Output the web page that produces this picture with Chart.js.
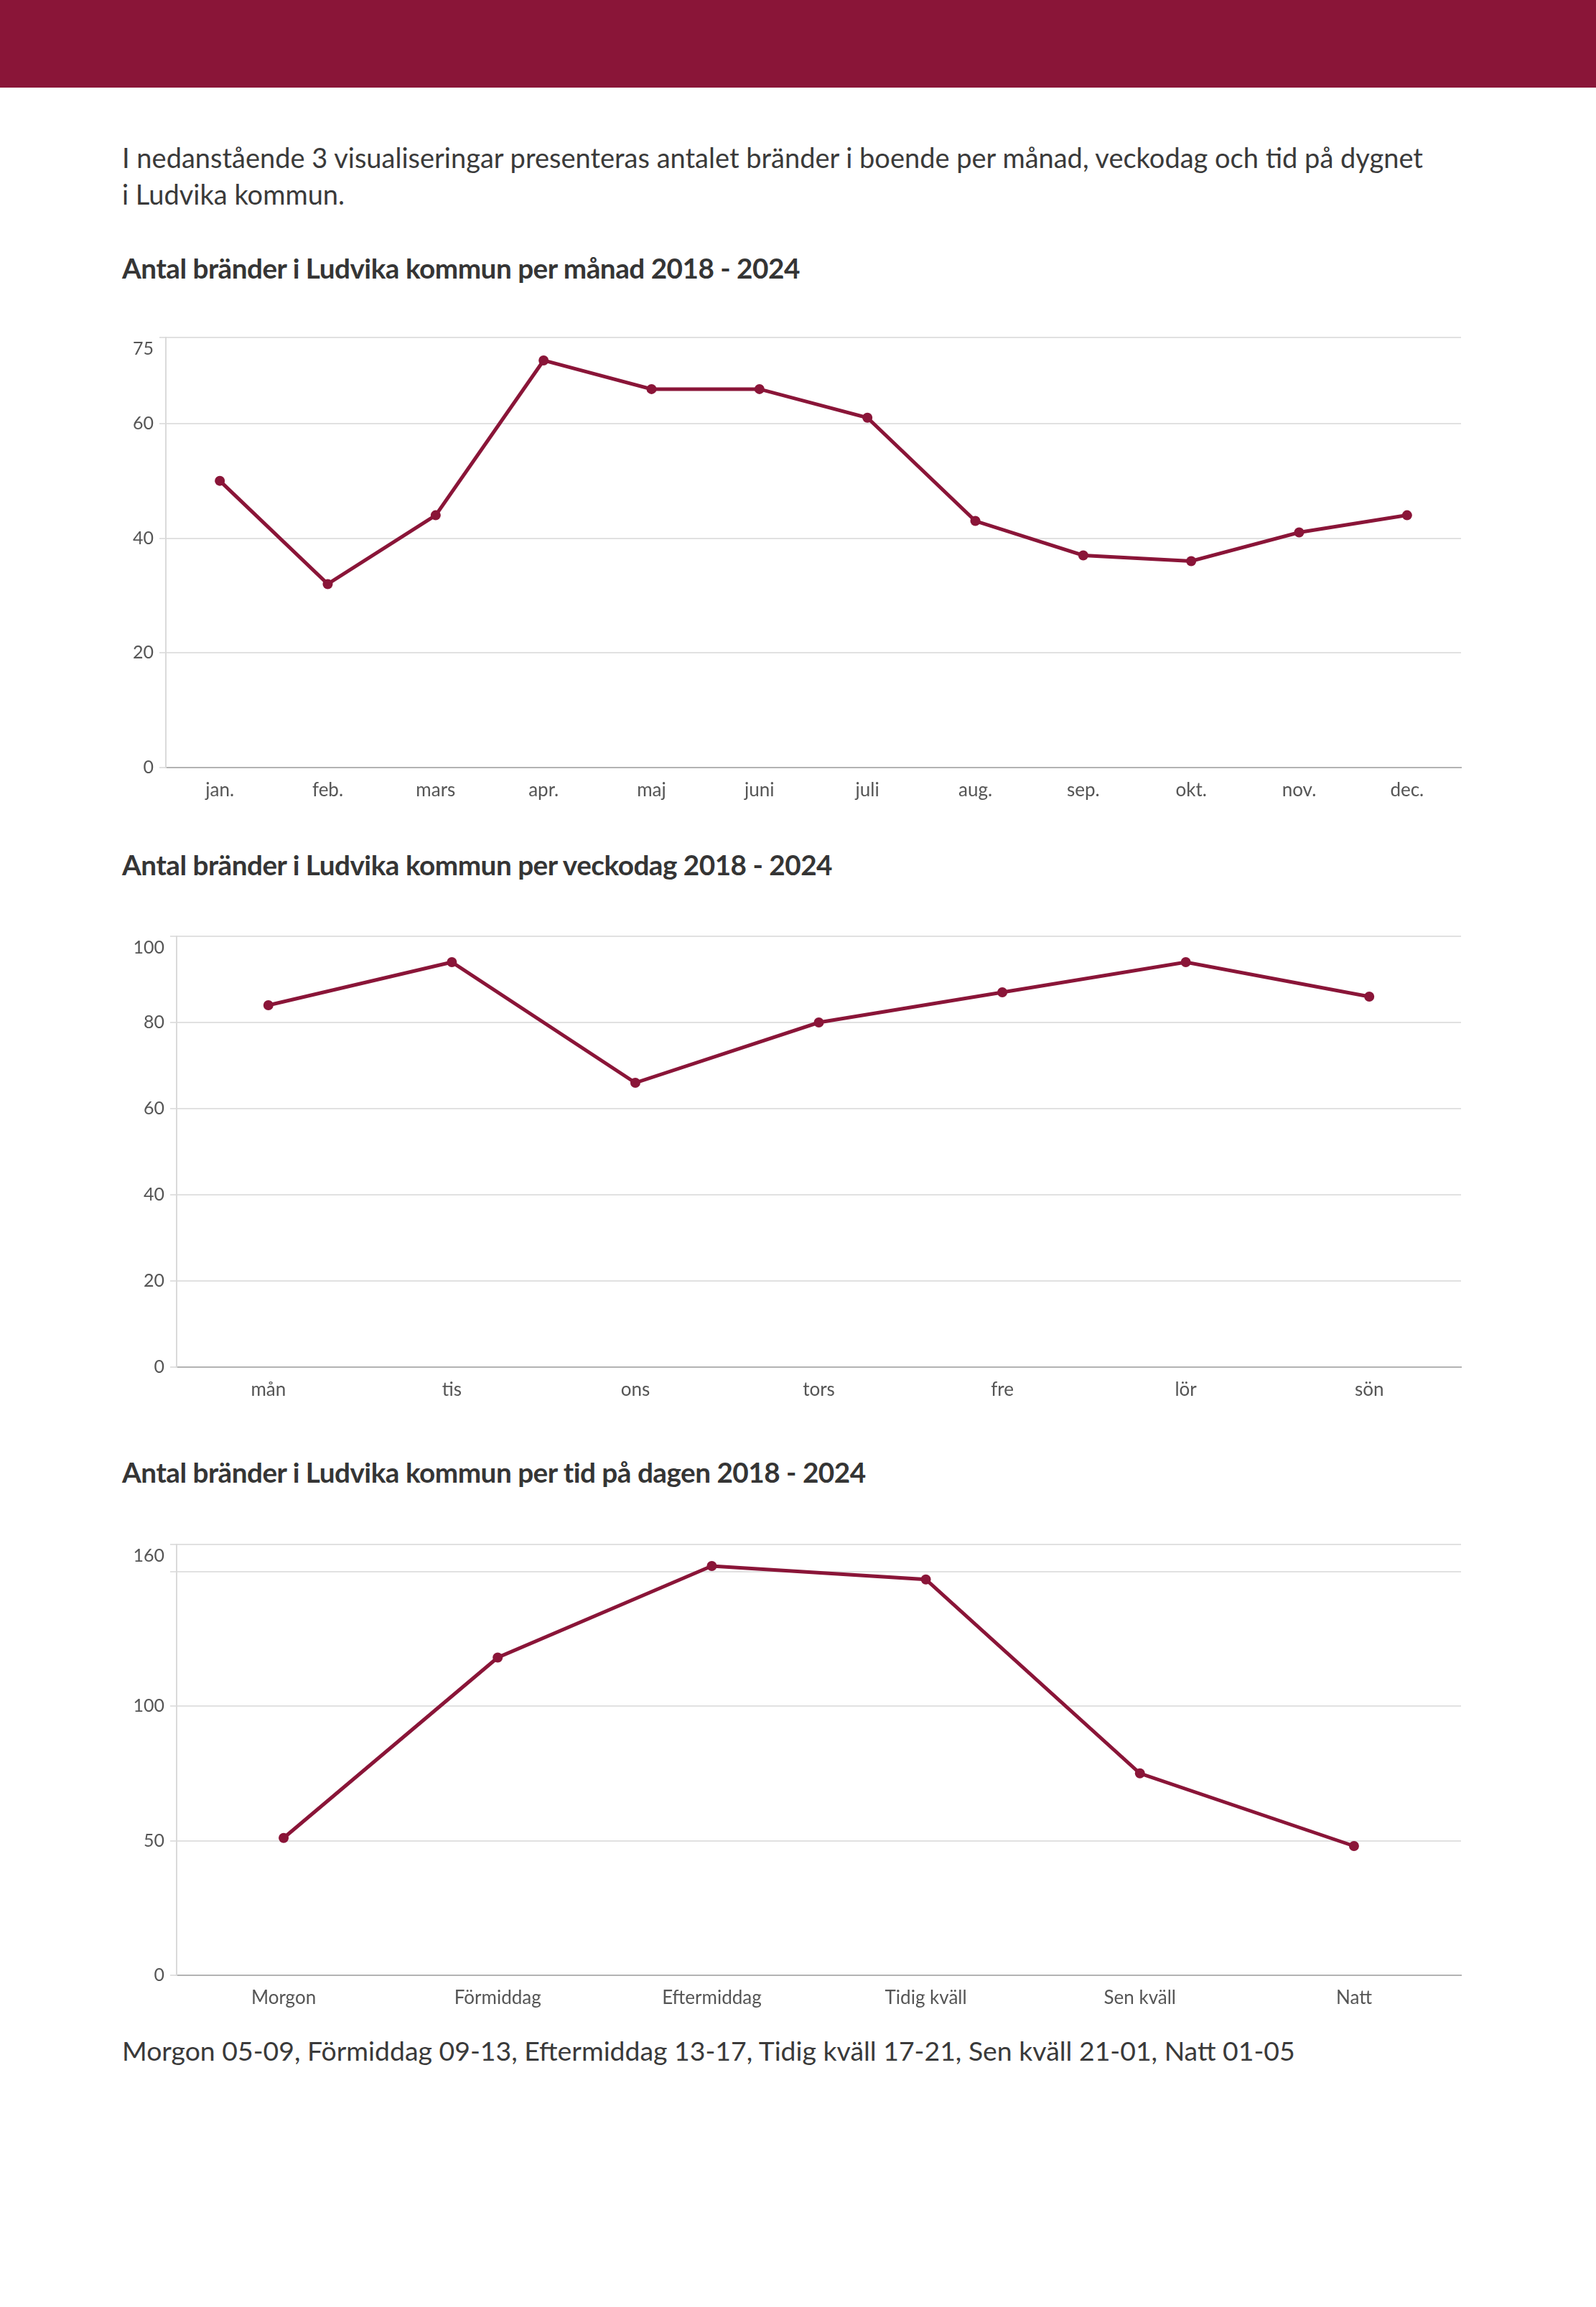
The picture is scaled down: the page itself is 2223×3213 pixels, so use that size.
<!DOCTYPE html>
<html lang="sv">
<head>
<meta charset="utf-8">
<title>Bränder i Ludvika kommun</title>
<script src="https://cdn.jsdelivr.net/npm/chart.js@4/dist/chart.umd.min.js"></script>
<style>
    body { margin: 0; background: #fff; font-family: Lato, "Open Sans", sans-serif; color: #3a3a3a; }
    .band { position: absolute; left: 0; top: 0; width: 2223px; height: 122px; background: #8a1538; }
    .text { position: absolute; left: 170px; width: 2000px; font-size: 38px; line-height: 51px; }
    .rubrik { position: absolute; left: 170px; font-size: 38.7px; font-weight: bold; line-height: 50px; color: #353535; letter-spacing: -0.5px; }
    .diagram { position: absolute; left: 150px; width: 1895px; }
</style>
</head>
<body>
<div class="band"></div>
<div class="text" style="top:194px">I nedanstående 3 visualiseringar presenteras antalet bränder i boende per månad, veckodag och tid på dygnet<br>i Ludvika kommun.</div>

<div class="rubrik" style="top:348px">Antal bränder i Ludvika kommun per månad 2018 - 2024</div>
<div class="diagram" style="top:447px;height:668px"><canvas id="grafManad"></canvas></div>

<div class="rubrik" style="top:1179px">Antal bränder i Ludvika kommun per veckodag 2018 - 2024</div>
<div class="diagram" style="top:1281px;height:669px"><canvas id="grafVeckodag"></canvas></div>

<div class="rubrik" style="top:2025px">Antal bränder i Ludvika kommun per tid på dagen 2018 - 2024</div>
<div class="diagram" style="top:2128px;height:669px"><canvas id="grafTid"></canvas></div>

<div class="text" style="top:2830px;font-size:37.4px">Morgon 05-09, Förmiddag 09-13, Eftermiddag 13-17, Tidig kväll 17-21, Sen kväll 21-01, Natt 01-05</div>

<script>
// Data avläst ur diagrammen
const manader = ['jan.', 'feb.', 'mars', 'apr.', 'maj', 'juni', 'juli', 'aug.', 'sep.', 'okt.', 'nov.', 'dec.'];
const perManad = [50, 32, 44, 71, 66, 66, 61, 43, 37, 36, 41, 44];
const ticksManad = [0, 20, 40, 60, 75];

const veckodagar = ['mån', 'tis', 'ons', 'tors', 'fre', 'lör', 'sön'];
const perVeckodag = [84, 94, 66, 80, 87, 94, 86];
const ticksVeckodag = [0, 20, 40, 60, 80, 100];

const tider = ['Morgon', 'Förmiddag', 'Eftermiddag', 'Tidig kväll', 'Sen kväll', 'Natt'];
const perTid = [51, 118, 152, 147, 75, 48];
const ticksTid = [0, 50, 100, 150, 160];
const doldaTicksTid = [150]; // linjen finns men etiketten syns inte

const farg = '#8a1538';

// Flyttar ned översta y-etiketten så att den hamnar inom diagrammet
const toppEtikett = {
    id: 'toppEtikett',
    beforeDraw(chart) {
        const items = chart.scales.y.getLabelItems(chart.chartArea);
        const sista = items[items.length - 1];
        if (sista) {
            sista.options.translation = [sista.options.translation[0], sista.options.translation[1] + 16];
        }
    }
};

// Skapar ett linjediagram
function ritaDiagram(id, etiketter, varden, ticks, doljda, yBredd) {
    const ctx = document.getElementById(id).getContext('2d');
    return new Chart(ctx, {
        type: 'line',
        data: {
            labels: etiketter,
            datasets: [{
                data: varden,
                borderColor: farg,
                backgroundColor: farg,
                borderWidth: 5,
                pointRadius: 7,
                pointBorderWidth: 0,
                tension: 0
            }]
        },
        options: {
            responsive: true,
            maintainAspectRatio: false,
            animation: false,
            layout: { padding: { top: 20, right: 10, left: 0, bottom: 0 } },
            plugins: {
                legend: { display: false },
                tooltip: { enabled: false }
            },
            scales: {
                x: {
                    offset: true,
                    grid: { display: false, drawTicks: false },
                    border: { color: '#b3b3b3', width: 2 },
                    ticks: { color: '#555', padding: 16, font: { family: 'Lato', size: 26 } },
                    afterFit: function(scale) { scale.height = 46; }
                },
                y: {
                    min: 0,
                    max: ticks[ticks.length - 1],
                    afterBuildTicks: function(axis) {
                        axis.ticks = ticks.map(v => ({ value: v }));
                    },
                    grid: { color: '#e1e1e1', lineWidth: 2, tickLength: 9 },
                    border: { color: '#dadada', width: 2 },
                    ticks: {
                        color: '#555',
                        padding: 8,
                        font: { family: 'Lato', size: 25 },
                        callback: function(v) { return doljda.includes(v) ? '' : v; }
                    },
                    afterFit: function(scale) { scale.width = yBredd; }
                }
            }
        },
        plugins: [toppEtikett]
    });
}

ritaDiagram('grafManad', manader, perManad, ticksManad, [], 81);
ritaDiagram('grafVeckodag', veckodagar, perVeckodag, ticksVeckodag, [], 96);
ritaDiagram('grafTid', tider, perTid, ticksTid, doldaTicksTid, 96);
</script>
</body>
</html>
